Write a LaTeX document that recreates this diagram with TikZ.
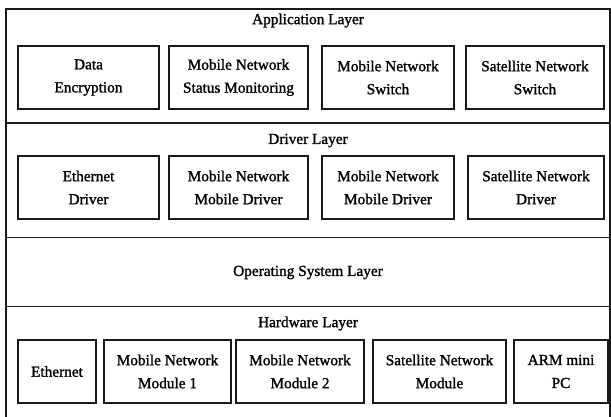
\documentclass[tikz,border=0pt]{standalone}
\usepackage{fontspec}
\setmainfont{Liberation Serif}[UprightFeatures={FakeBold=1.4}]
\begin{document}
\begin{tikzpicture}[x=1pt,y=-1pt,
  layer/.style={draw=black!90,line width=1.3pt},
  unit/.style={draw=black!90,line width=1.3pt,align=center,inner sep=0pt,
    font=\fontsize{15.3}{23}\selectfont},
  title/.style={inner sep=0pt,font=\fontsize{15.3}{18}\selectfont}]
\useasboundingbox (0,0) rectangle (611,417);
\clip (0,0) rectangle (611,417);

% the four stacked layers
\draw[layer] (6,9) rectangle (610,123);
\draw[layer] (6,123) rectangle (610,237.5);
\draw[layer] (6,237.5) rectangle (610,306.5);
\draw[layer] (6,306.5) rectangle (610,425);

% layer titles
\node[title] (tapp) at (308,20.5) {Application Layer};
\node[title] (tdrv) at (308,140.5) {Driver Layer};
\node[title] (tos)  at (308,272.5) {Operating System Layer};
\node[title] (thw)  at (308,323.5) {Hardware Layer};

% application layer
\node[unit,minimum width=141,minimum height=63] (a1) at (88.5,77.5) {Data\\Encryption};
\node[unit,minimum width=139,minimum height=63] (a2) at (238.5,77.5) {Mobile Network\\Status Monitoring};
\node[unit,minimum width=132,minimum height=63] (a3) at (388,77.5) {Mobile Network\\Switch};
\node[unit,minimum width=138,minimum height=63] (a4) at (535,77.5) {Satellite Network\\Switch};

% driver layer
\node[unit,minimum width=141,minimum height=63] (d1) at (88.5,187.5) {Ethernet\\Driver};
\node[unit,minimum width=139,minimum height=63] (d2) at (238.5,187.5) {Mobile Network\\Mobile Driver};
\node[unit,minimum width=132,minimum height=63] (d3) at (388,187.5) {Mobile Network\\Mobile Driver};
\node[unit,minimum width=136,minimum height=63] (d4) at (536,187.5) {Satellite Network\\Driver};

% hardware layer
\node[unit,minimum width=78,minimum height=63]  (h1) at (57,371.5) {Ethernet};
\node[unit,minimum width=127,minimum height=63] (h2) at (167.5,371.5) {Mobile Network\\Module 1};
\node[unit,minimum width=128,minimum height=63] (h3) at (300,371.5) {Mobile Network\\Module 2};
\node[unit,minimum width=133,minimum height=63] (h4) at (439.5,371.5) {Satellite Network\\Module};
\node[unit,minimum width=94,minimum height=63]  (h5) at (561,371.5) {ARM mini\\PC};
\end{tikzpicture}
\end{document}
